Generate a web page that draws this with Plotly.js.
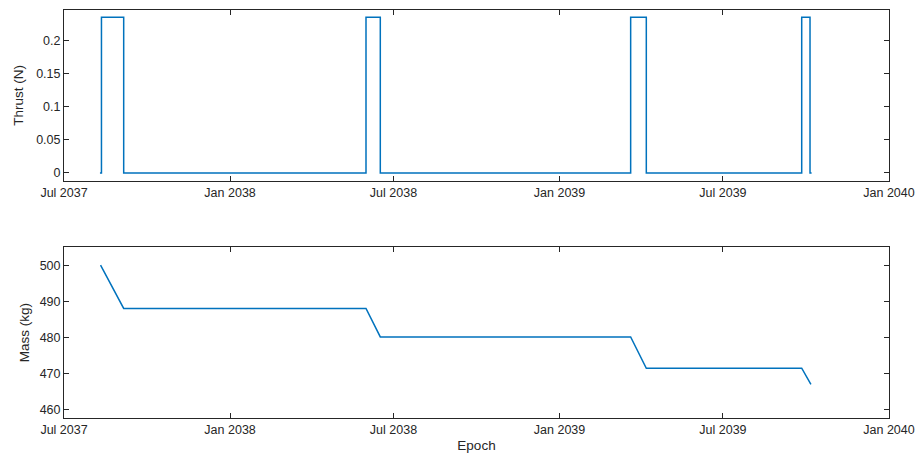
<!DOCTYPE html>
<html>
<head>
<meta charset="utf-8">
<script src="https://cdn.plot.ly/plotly-3.0.1.min.js"></script>
<style>html,body{margin:0;padding:0;background:#fff;}#chart{width:918px;height:460px;}</style>
</head>
<body>
<div id="chart"></div>
<script>
// Thrust profile (step, held until next epoch)
const thrustEpochs = ["2037-08-09 20:00", "2037-08-11 12:00", "2037-09-05 03:00", "2038-05-31 14:00", "2038-06-16 10:00",
                      "2039-03-20 19:00", "2039-04-07 03:00", "2039-09-26 07:00", "2039-10-05 12:00", "2039-10-07 06:00"];
const thrustValues = [0, 0.235, 0, 0.235, 0, 0.235, 0, 0.235, 0, 0];

// Spacecraft mass
const massEpochs = ["2037-08-10 12:00", "2037-09-05 03:00", "2038-05-31 14:00", "2038-06-16 10:00",
                    "2039-03-20 19:00", "2039-04-07 03:00", "2039-09-26 07:00", "2039-10-06 12:00"];
const massValues = [500, 488, 488, 480.1, 480.1, 471.4, 471.4, 466.9];

// Axis ticks
const xTickVals = ["2037-07-01", "2038-01-01", "2038-07-01", "2039-01-01", "2039-07-01", "2040-01-01"];
const xTickText = ["Jul 2037", "Jan 2038", "Jul 2038", "Jan 2039", "Jul 2039", "Jan 2040"];
const thrustTickVals = [0, 0.05, 0.1, 0.15, 0.2];
const thrustTickText = ["0", "0.05", "0.1", "0.15", "0.2"];
const massTickVals = [460, 470, 480, 490, 500];
const massTickText = ["460", "470", "480", "490", "500"];

const lineColor = "#0072BD";
const axColor = "#262626";
const fontFam = "Liberation Sans, Arial, Helvetica, sans-serif";

const traces = [
  {x: thrustEpochs, y: thrustValues, type: "scatter", mode: "lines", line: {color: lineColor, width: 1.5, shape: "hv"}, xaxis: "x", yaxis: "y", hoverinfo: "x+y"},
  {x: massEpochs, y: massValues, type: "scatter", mode: "lines", line: {color: lineColor, width: 1.5}, xaxis: "x2", yaxis: "y2", hoverinfo: "x+y"}
];

function xAxis(anchor, withTitle) {
  const a = {
    type: "date", range: ["2037-07-01", "2040-01-01"], anchor: anchor,
    tickmode: "array", tickvals: xTickVals, ticktext: xTickText,
    ticks: "inside", ticklen: 5, tickcolor: axColor, tickwidth: 1,
    showline: true, linecolor: axColor, linewidth: 1, mirror: "ticks",
    showgrid: false, zeroline: false,
    tickfont: {family: fontFam, size: 12.5, color: axColor}
  };
  if (withTitle) a.title = {text: "Epoch", font: {family: fontFam, size: 13.5, color: axColor}, standoff: 4};
  return a;
}
function yAxis(anchor, domain, range, vals, text, title, standoff) {
  return {
    domain: domain, range: range, anchor: anchor,
    tickmode: "array", tickvals: vals, ticktext: text,
    ticks: "inside", ticklen: 5, tickcolor: axColor, tickwidth: 1,
    showline: true, linecolor: axColor, linewidth: 1, mirror: "ticks",
    showgrid: false, zeroline: false,
    tickfont: {family: fontFam, size: 12.5, color: axColor},
    title: {text: title, font: {family: fontFam, size: 13.5, color: axColor}, standoff: standoff}
  };
}

const layout = {
  width: 918, height: 460,
  margin: {l: 64, r: 29, t: 10, b: 42},
  paper_bgcolor: "#ffffff", plot_bgcolor: "#ffffff",
  showlegend: false,
  xaxis: xAxis("y", false),
  yaxis: yAxis("x", [0.581, 1], [-0.0121, 0.2459], thrustTickVals, thrustTickText, "Thrust (N)", 9),
  xaxis2: xAxis("y2", true),
  yaxis2: yAxis("x2", [0, 0.418], [457.6, 504.9], massTickVals, massTickText, "Mass (kg)", 6)
};

Plotly.newPlot("chart", traces, layout, {displayModeBar: false, responsive: false});
</script>
</body>
</html>
